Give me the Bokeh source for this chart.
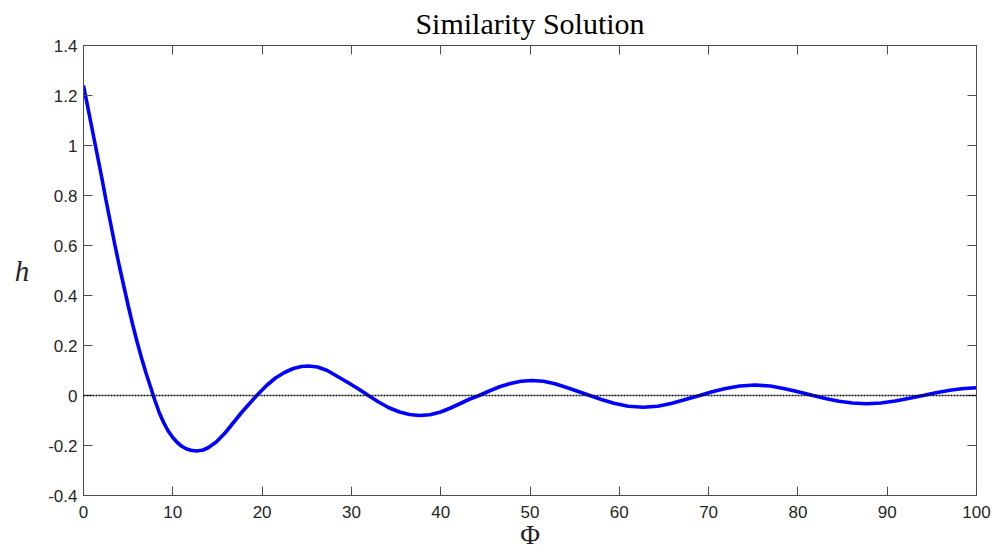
from bokeh.plotting import figure
from bokeh.models import (Range1d, FixedTicker, LinearAxis, Span, NumeralTickFormatter,
                          CustomJSTickFormatter)
from bokeh.embed import file_html
from bokeh.resources import INLINE

# ---- data ----
phi = [0, 0.5, 1, 1.5, 2, 2.5, 3, 3.5, 4, 4.5, 5, 5.5, 6, 6.5, 7, 7.5, 8, 8.5, 9, 9.5,
       10, 10.5, 11, 11.5, 12, 12.7, 13.4, 14, 14.9, 15.9, 16.8, 17.7, 18.6, 19.4,
       20.5, 21.5, 22.5, 23.5, 24.4, 25.2, 26.2, 27.3, 28.5, 29.7, 30.8, 31.9,
       33, 34.2, 35.4, 36.5, 37.6, 38.8, 40, 41.1, 42.2, 43.2, 44.3,
       45.5, 46.6, 47.8, 49, 50.2, 51.5, 52.8, 54.1, 55.4, 56.7,
       58, 59.4, 61, 62.7, 64.3, 65.8, 67.2, 68.2, 69,
       70.4, 71.9, 73.5, 75.2, 76.9, 78.4, 79.9, 81.7,
       83.2, 84.6, 86.1, 87.7, 89.3, 90.9, 92.5, 94,
       95.6, 97.2, 98.6, 100]
h = [1.24, 1.15, 1.06, 0.97, 0.88, 0.785, 0.695, 0.605, 0.52, 0.44, 0.36, 0.285, 0.215,
     0.15, 0.09, 0.035, -0.02, -0.07, -0.11, -0.143,
     -0.168, -0.188, -0.203, -0.213, -0.219, -0.222, -0.218, -0.208, -0.185, -0.148,
     -0.108, -0.068, -0.032, 0.0,
     0.04, 0.07, 0.092, 0.108, 0.116, 0.118, 0.114, 0.1, 0.075, 0.05, 0.026, 0.0,
     -0.025, -0.049, -0.066, -0.076, -0.08, -0.077, -0.066, -0.05, -0.032, -0.015, 0.0,
     0.019, 0.035, 0.048, 0.057, 0.06, 0.057, 0.047, 0.032, 0.016, 0.0,
     -0.016, -0.031, -0.043, -0.047, -0.043, -0.032, -0.018, -0.008, 0.0,
     0.015, 0.028, 0.038, 0.042, 0.038, 0.028, 0.016, 0.0,
     -0.013, -0.023, -0.03, -0.033, -0.03, -0.022, -0.011, 0.0,
     0.012, 0.022, 0.028, 0.031]
x_ticks = [0, 10, 20, 30, 40, 50, 60, 70, 80, 90, 100]
y_ticks = [-0.4, -0.2, 0, 0.2, 0.4, 0.6, 0.8, 1, 1.2, 1.4]
title_text = "Similarity Solution"
x_label = "Φ"
y_label = "h"

AX = "#4d4d4d"
TXT = "#262626"

p = figure(width=995, height=554, output_backend="svg", toolbar_location=None,
           x_range=Range1d(0, 100), y_range=Range1d(-0.4, 1.4),
           min_border_left=83, min_border_right=19, min_border_top=45, min_border_bottom=59,
           title=title_text)
p.grid.visible = False
p.outline_line_color = AX
p.outline_line_width = 1
p.background_fill_color = "white"
p.border_fill_color = "white"

p.title.align = "center"
p.title.vertical_align = "top"
p.title.text_font = "Liberation Serif"
p.title.text_font_style = "normal"
p.title.text_font_size = "30px"
p.title.text_color = "black"
p.title.standoff = 8


def style(ax, show_labels):
    ax.axis_line_color = AX
    ax.major_tick_line_color = AX
    ax.major_tick_in = 9
    ax.major_tick_out = 0
    ax.minor_tick_line_color = None
    ax.major_label_text_font = "Liberation Sans"
    ax.major_label_text_color = TXT
    ax.major_label_text_font_size = "17px" if show_labels else "1px"


p.xaxis.ticker = FixedTicker(ticks=x_ticks)
p.yaxis.ticker = FixedTicker(ticks=y_ticks)
p.xaxis.formatter = NumeralTickFormatter(format="0")
p.yaxis.formatter = NumeralTickFormatter(format="0.[0]")
style(p.xaxis[0], True)
style(p.yaxis[0], True)
p.xaxis.major_label_standoff = 10
p.yaxis.major_label_standoff = 6

p.xaxis.axis_label = x_label
p.xaxis.axis_label_text_font = "Liberation Serif"
p.xaxis.axis_label_text_font_style = "normal"
p.xaxis.axis_label_text_font_size = "27px"
p.xaxis.axis_label_text_color = TXT
p.xaxis.axis_label_standoff = -1

p.yaxis.axis_label = y_label
p.yaxis.axis_label_orientation = "horizontal"
p.yaxis.axis_label_text_baseline = "alphabetic"
p.yaxis.axis_label_text_font = "Liberation Serif"
p.yaxis.axis_label_text_font_style = "italic"
p.yaxis.axis_label_text_font_size = "29px"
p.yaxis.axis_label_text_color = TXT
p.yaxis.axis_label_standoff = 16

blank = CustomJSTickFormatter(code="return ''")
top = LinearAxis(ticker=FixedTicker(ticks=x_ticks), formatter=blank, major_label_standoff=0)
right = LinearAxis(ticker=FixedTicker(ticks=y_ticks), formatter=blank, major_label_standoff=0)
style(top, False)
style(right, False)
p.add_layout(top, "above")
p.add_layout(right, "right")

p.add_layout(Span(location=0, dimension="width", line_color="black",
                  line_dash="2 1", line_width=1.5))
p.line(phi, h, line_color="#0000ff", line_width=3.6)

open("out.html", "w").write(file_html(p, INLINE))
